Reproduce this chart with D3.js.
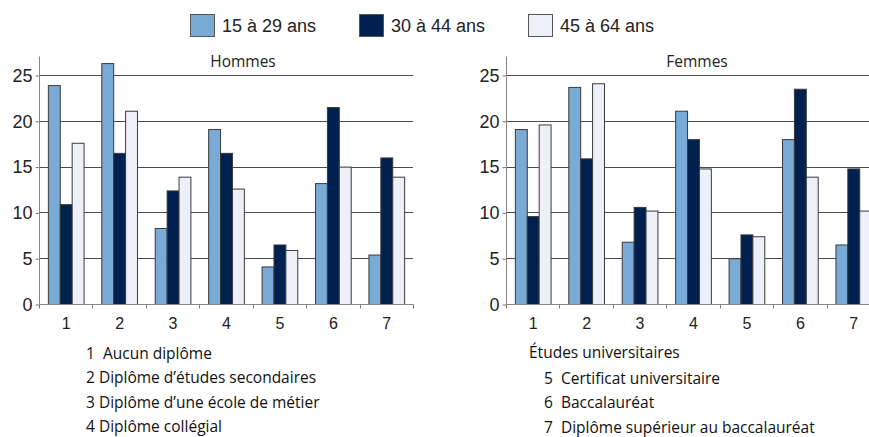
<!DOCTYPE html>
<html><head><meta charset="utf-8">
<script src="https://cdn.jsdelivr.net/npm/d3@7"></script>
<style>
body{margin:0;background:#fff;}
svg{display:block;}
text{white-space:pre;}
</style></head>
<body>
<svg id="c" width="869" height="437"></svg>
<script>
const categories = ["1","2","3","4","5","6","7"];
const series = ["15 à 29 ans","30 à 44 ans","45 à 64 ans"];
const colors = ["#7aaad6","#002150","#edf0f9"];
const hommes15 = [23.9, 26.3, 8.3, 19.1, 4.1, 13.2, 5.4];
const hommes30 = [10.9, 16.5, 12.4, 16.5, 6.5, 21.5, 16.0];
const hommes45 = [17.6, 21.1, 13.9, 12.6, 5.9, 15.0, 13.9];
const femmes15 = [19.1, 23.7, 6.8, 21.1, 5.0, 18.0, 6.5];
const femmes30 = [9.6, 15.9, 10.6, 18.0, 7.6, 23.5, 14.8];
const femmes45 = [19.6, 24.1, 10.2, 14.8, 7.4, 13.9, 10.2];
const yTicks = [0,5,10,15,20,25];
const notesLeft = ["1  Aucun diplôme","2 Diplôme d’études secondaires","3 Diplôme d’une école de métier","4 Diplôme collégial"];
const notesRightHead = "Études universitaires";
const notesRight = ["5  Certificat universitaire","6  Baccalauréat","7  Diplôme supérieur au baccalauréat"];

const svg = d3.select("#c");
const roundFont = "'Open Sans', 'DejaVu Sans', sans-serif";
const axisFont = "'Liberation Sans', Arial, sans-serif";

function panel(x0px, title, titleX, vals) {
  const g = svg.append("g");
  const x = d3.scaleBand().domain(categories).range([x0px, x0px + 374]);
  const x1 = d3.scaleBand().domain(series).range([0, x.bandwidth()]).paddingInner(0).paddingOuter(0.745);
  const y = d3.scaleLinear().domain([0, 25]).range([304, 75]);
  g.selectAll("line.grid").data(yTicks.filter(d => d > 0)).enter().append("line")
    .attr("x1", x0px).attr("x2", x0px + 374)
    .attr("y1", d => Math.round(y(d)) + 0.5).attr("y2", d => Math.round(y(d)) + 0.5)
    .attr("stroke", "#4a4a4a").attr("stroke-width", 1);
  g.append("text").attr("x", titleX).attr("y", 67).attr("text-anchor", "middle")
    .attr("font-family", roundFont).attr("font-size", 15.5).attr("fill", "#222").text(title);
  const data = [];
  categories.forEach((c, i) => series.forEach((s, j) => data.push({c, s, j, v: vals[j][i]})));
  g.selectAll("rect.bar").data(data).enter().append("rect")
    .attr("x", d => x(d.c) + x1(d.s) + 0.5)
    .attr("y", d => y(d.v) + 0.5)
    .attr("width", x1.bandwidth())
    .attr("height", d => y(0) - y(d.v))
    .attr("fill", d => colors[d.j])
    .attr("stroke", "#3a3a3a").attr("stroke-width", 1);
  const yAxis = d3.axisLeft(y).tickValues(yTicks).tickSize(4).tickPadding(3);
  const ya = g.append("g").attr("transform", `translate(${x0px + 0.5},0.5)`).call(yAxis);
  ya.select(".domain").remove();
  ya.append("line").attr("x1", 0).attr("x2", 0).attr("y1", 56).attr("y2", 304).attr("stroke", "#888");
  ya.selectAll(".tick line").attr("stroke", "#777");
  ya.selectAll("text").attr("font-family", axisFont).attr("font-size", 18).attr("fill", "#222");
  const xLin = d3.scaleLinear().domain([0, 7]).range([x0px, x0px + 374]);
  const xa = g.append("g").attr("transform", `translate(0.5,${304.5})`);
  xa.append("line").attr("x1", x0px).attr("x2", x0px + 374).attr("stroke", "#888");
  xa.selectAll("line.tk").data(d3.range(8)).enter().append("line")
    .attr("x1", d => Math.round(xLin(d))).attr("x2", d => Math.round(xLin(d)))
    .attr("y1", 0).attr("y2", 4).attr("stroke", "#777");
  xa.selectAll("text").data(categories).enter().append("text")
    .attr("x", d => x(d) + x.bandwidth() / 2).attr("y", 24).attr("text-anchor", "middle")
    .attr("font-family", axisFont).attr("font-size", 16).attr("fill", "#222").text(d => d);
}

panel(39, "Hommes", 243, [hommes15, hommes30, hommes45]);
panel(506, "Femmes", 697, [femmes15, femmes30, femmes45]);

const legX = [190, 359, 528];
series.forEach((s, i) => {
  svg.append("rect").attr("x", legX[i] + 0.5).attr("y", 14.5).attr("width", 24).attr("height", 22)
    .attr("fill", colors[i]).attr("stroke", "#555");
  svg.append("text").attr("x", legX[i] + 32).attr("y", 32)
    .attr("font-family", axisFont).attr("font-size", 18).attr("fill", "#222").text(s);
});

svg.selectAll("text.nl").data(notesLeft).enter().append("text")
  .attr("x", 86).attr("y", (d, i) => 359 + i * 24.3)
  .attr("font-family", roundFont).attr("font-size", 15.5).attr("fill", "#111").text(d => d);
svg.append("text").attr("x", 529).attr("y", 358)
  .attr("font-family", roundFont).attr("font-size", 15.5).attr("fill", "#111").text(notesRightHead);
svg.selectAll("text.nr").data(notesRight).enter().append("text")
  .attr("x", 544).attr("y", (d, i) => 384 + i * 24.3)
  .attr("font-family", roundFont).attr("font-size", 15.5).attr("fill", "#111").text(d => d);
</script>
</body></html>
